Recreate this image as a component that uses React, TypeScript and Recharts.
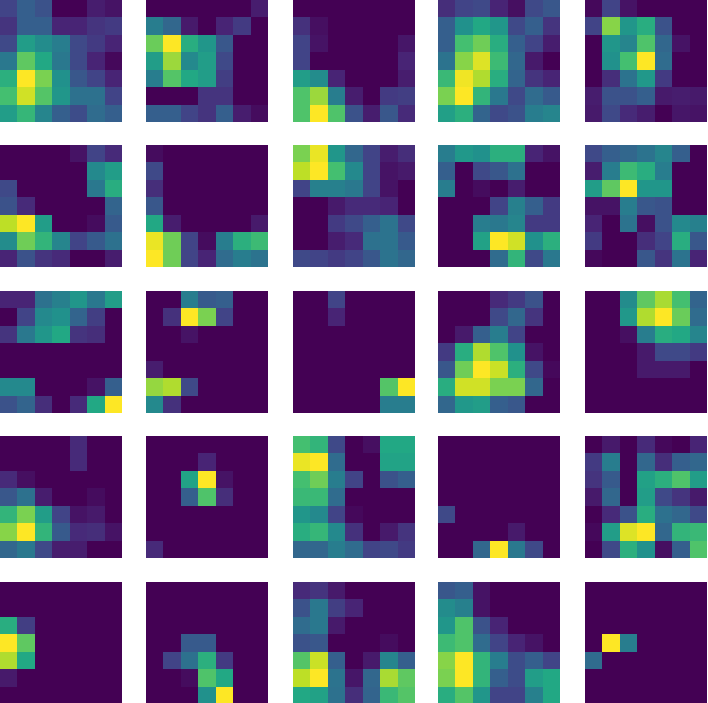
import React from 'react';
import { Bar, BarChart, Cell, XAxis, YAxis } from 'recharts';

// each panel is a 7x7 activation map, rows listed top to bottom, values 0..1
const panel1 = [[.2,.3,.25,0,0,.08,.05],[.15,.3,.3,.1,.1,.15,.17],[.22,.55,.48,.42,.22,.17,.1],[.4,.75,.6,.4,.22,.1,.02],[.63,1,.8,.5,.27,.2,.1],[.7,.93,.73,.52,.37,.37,.2],[.55,.66,.45,.3,.23,.35,.3]];
const panel2 = [[0,0,0,0,0,0,.08],[.42,.33,.07,0,.1,.17,0],[.77,1,.62,.52,.27,0,0],[.55,.85,.47,.55,.22,0,0],[.42,.73,.6,.55,.18,0,0],[0,0,0,.15,.15,0,0],[.3,.3,.2,.15,.3,.08,.03]];
const panel3 = [[0,0,0,0,0,0,0],[.14,.04,0,0,0,0,0],[.2,.05,0,0,0,0,.06],[.2,0,0,0,0,0,.1],[.55,.48,.1,0,0,0,.08],[.72,.85,.42,.08,0,.17,.18],[.72,1,.72,.25,.08,.27,.12]];
const panel4 = [[.13,.2,.22,.1,.04,.22,.27],[.3,.5,.6,.52,.22,.3,.15],[.3,.7,.78,.62,.3,.2,.08],[.38,.82,.95,.68,.33,.07,0],[.67,.98,.88,.62,.32,.15,.1],[.8,1,.65,.4,.22,.35,.28],[.56,.63,.32,.22,.25,.42,.45]];
const panel5 = [[.02,.2,.05,0,0,0,0],[.2,.82,.52,.62,.25,0,0],[0,.52,.45,.72,.33,.05,0],[0,.5,.7,1,.35,0,0],[0,.13,.38,.53,.17,0,0],[.08,.25,.25,.3,.07,.08,.07],[.07,.22,.12,.08,0,.06,.05]];
const panel6 = [[0,0,0,0,.05,.2,.12],[0,0,0,0,0,.47,.55],[.22,0,0,0,0,.4,.62],[.25,.12,0,0,0,0,.32],[.9,1,.55,0,0,.03,.28],[.48,.78,.65,.45,.2,.28,.37],[.1,.25,.15,.12,0,0,.08]];
const panel7 = [[.03,0,0,0,0,0,0],[.22,0,0,0,0,0,0],[.13,0,0,0,0,0,0],[.27,0,0,0,0,0,0],[.6,.08,0,0,0,0,.07],[.97,.78,.2,.03,.42,.63,.68],[1,.78,.2,.1,.35,.42,.38]];
const panel8 = [[.8,.97,.52,.33,.2,.08,.13],[.9,1,.7,.47,.2,.05,.07],[.2,.43,.43,.4,.2,.05,0],[0,0,.07,.12,.12,.1,0],[0,0,.17,.22,.3,.38,.22],[0,0,.08,.12,.37,.38,.28],[.22,.2,.17,.2,.27,.38,.33]];
const panel9 = [[.42,.53,.5,.63,.63,.1,.05],[.3,0,.22,.27,.37,0,0],[.42,0,.03,0,.08,0,0],[0,0,0,.2,.43,.3,.17],[0,0,.42,.4,.45,.17,.17],[0,0,.57,1,.93,.5,.63],[0,0,0,.35,.65,.22,.4]];
const panel10 = [[.22,.3,.33,.38,.45,.3,0],[.08,.42,.68,.62,.42,0,0],[.55,.75,1,.52,.52,0,0],[.05,.05,.42,.27,.25,0,0],[.1,0,.38,.04,.25,.47,.43],[.17,0,0,.13,.2,.62,.27],[.02,0,0,.27,.15,.38,.1]];
const panel11 = [[.1,.1,.37,.43,.52,.4,.55],[0,.2,.47,.5,.32,.18,0],[.15,.4,.52,.6,.15,.13,0],[0,0,0,0,0,0,0],[0,0,0,0,0,0,0],[.47,.47,0,0,0,.05,.3],[.25,.32,.13,0,.12,.6,1]];
const panel12 = [[0,0,.42,.28,.3,0,0],[0,.14,1,.8,.2,0,0],[0,0,.05,0,0,0,0],[0,0,0,0,0,0,0],[.08,0,0,0,0,0,0],[.84,.88,.22,0,0,0,0],[.47,.14,0,0,0,0,0]];
const panel13 = [[0,0,.2,0,0,0,0],[0,0,.1,0,0,0,0],[0,0,0,0,0,0,0],[0,0,0,0,0,0,0],[0,0,0,0,0,0,0],[0,0,0,0,0,.73,1],[0,0,0,0,0,.42,.42]];
const panel14 = [[0,0,0,.12,.17,.25,0],[0,0,0,.22,.33,.15,0],[0,.07,.3,.42,.2,0,0],[.17,.62,.88,.72,.5,.05,0],[.27,.78,1,.92,.63,.22,.02],[.62,.93,.93,.8,.8,.33,0],[.33,.53,.55,.3,.27,0,0]];
const panel15 = [[0,0,.48,.75,.87,.7,.32],[0,0,.53,.88,1,.77,.35],[0,0,.04,.42,.62,.6,.45],[0,0,0,.07,.22,.22,.17],[0,0,0,.07,.07,.07,0],[0,0,0,0,0,0,0],[0,0,0,0,0,0,0]];
const panel16 = [[0,0,0,0,.12,0,0],[0,0,0,0,.12,0,0],[.12,.04,0,0,0,0,0],[.27,.37,.08,0,0,.03,0],[.65,.8,.55,.2,.05,.07,0],[.82,1,.65,.28,.12,.13,.05],[.33,.4,.22,.08,.08,0,0]];
const panel17 = [[0,0,0,0,0,0,0],[0,0,0,.1,0,0,0],[0,0,.58,1,.05,0,0],[0,0,.3,.72,.13,0,0],[0,0,0,0,0,0,0],[0,0,0,0,0,0,0],[.12,0,0,0,0,0,0]];
const panel18 = [[.7,.65,.22,0,.04,.6,.6],[.97,1,.35,0,0,.58,.58],[.7,.78,.42,.2,0,.25,.3],[.67,.67,.35,0,0,0,0],[.52,.47,.2,.02,0,0,0],[.62,.66,.47,.14,0,.07,.15],[.33,.33,.42,.35,.2,.22,.17]];
const panel19 = [[0,0,0,0,0,0,0],[0,0,0,0,0,0,0],[0,0,0,0,0,0,0],[0,0,0,0,0,0,0],[.22,0,0,0,0,0,0],[0,0,0,0,.07,0,0],[0,0,.33,1,.4,.22,0]];
const panel20 = [[0,.07,0,.12,.02,0,.1],[.17,.42,0,.33,.13,.3,.33],[.15,.28,0,.57,.63,.72,.55],[.07,.33,0,.55,.22,.15,.07],[0,.12,.25,.62,.37,.33,.22],[.02,.55,.95,1,.33,.65,.67],[0,.22,.63,.5,.04,.3,.72]];
const panel21 = [[0,0,0,0,0,0,0],[0,0,0,0,0,0,0],[.62,.18,0,0,0,0,0],[1,.75,0,0,0,0,0],[.88,.6,0,0,0,0,0],[.07,0,0,0,0,0,0],[0,0,0,0,0,0,0]];
const panel22 = [[0,0,0,0,0,0,0],[0,0,0,0,0,0,0],[0,0,0,0,0,0,0],[0,0,.28,.28,0,0,0],[0,.2,.37,.63,.17,0,0],[0,0,.03,.72,.6,0,0],[0,0,0,.5,1,0,0]];
const panel23 = [[.12,.15,.07,0,0,0,0],[.25,.4,.18,.1,0,0,0],[.35,.4,.07,0,0,0,0],[.25,.27,0,0,0,.03,0],[.73,.92,.3,0,.07,.45,.3],[.9,1,.38,.06,.33,.87,.75],[.6,.57,.37,.13,.32,.67,.73]];
const panel24 = [[.27,.3,.05,0,0,0,0],[.48,.43,.05,0,0,0,0],[.52,.72,.25,.1,0,0,0],[.68,.72,.35,.2,.1,.05,0],[.82,1,.65,.42,.23,.3,.2],[.8,1,.65,.3,.23,.55,.6],[.62,.73,.52,.2,.2,.43,.6]];
const panel25 = [[0,0,0,0,0,0,0],[0,0,0,0,0,0,0],[0,0,0,0,0,0,0],[0,1,.42,0,0,0,0],[.35,0,0,0,0,0,0],[0,0,0,0,0,0,0],[0,0,0,0,0,0,0]];

const panels = [
  panel1, panel2, panel3, panel4, panel5,
  panel6, panel7, panel8, panel9, panel10,
  panel11, panel12, panel13, panel14, panel15,
  panel16, panel17, panel18, panel19, panel20,
  panel21, panel22, panel23, panel24, panel25,
];

const columnLefts = [0, 146, 293, 438, 585];
const rowTops = [0, 145, 291, 436, 582];
const panelSize = 122;
const gridSize = 7;
// recharts floors bar widths, so draw at a whole multiple of 7 and scale down
const drawSize = 490;

const viridis = [
  [68, 1, 84], [72, 36, 117], [65, 68, 135], [53, 95, 141], [42, 120, 142],
  [33, 145, 140], [34, 168, 132], [68, 191, 112], [122, 209, 81], [189, 223, 38], [253, 231, 37],
];

const colorFor = (value: number) => {
  const pos = value * 10;
  const low = Math.min(Math.floor(pos), 9);
  const t = pos - low;
  const mix = viridis[low].map((c, i) => Math.round(c + (viridis[low + 1][i] - c) * t));
  return `rgb(${mix.join(',')})`;
};

const Heatmap = ({ cells }: { cells: number[][] }) => {
  // every row is one stacked unit per column, the colour carries the value
  const table = cells[0].map((_, col) => {
    const entry: Record<string, number> = { col };
    cells.forEach((_, row) => {
      entry[`row${row}`] = 1;
    });
    return entry;
  });
  const bottomUp = cells.map((_, row) => gridSize - 1 - row);

  return (
    <BarChart
      width={drawSize}
      height={drawSize}
      data={table}
      margin={{ top: 0, right: 0, bottom: 0, left: 0 }}
      barCategoryGap={0}
      barGap={0}
      style={{ shapeRendering: 'crispEdges' }}
    >
      <XAxis dataKey='col' hide />
      <YAxis hide domain={[0, gridSize]} />
      {bottomUp.map((row) => (
        <Bar key={row} dataKey={`row${row}`} stackId='cells' isAnimationActive={false}>
          {cells[row].map((value, col) => (
            <Cell key={col} fill={colorFor(value)} />
          ))}
        </Bar>
      ))}
    </BarChart>
  );
};

const App = () => {
  return (
    <div
      style={{
        position: 'absolute',
        left: 0,
        top: 0,
        width: 708,
        height: 703,
        overflow: 'hidden',
        background: '#fff',
        filter: 'blur(0.6px)',
      }}
    >
      {panels.map((cells, i) => (
        <div
          key={i}
          style={{
            position: 'absolute',
            left: columnLefts[i % 5],
            top: rowTops[Math.floor(i / 5)],
            width: drawSize,
            height: drawSize,
            transform: `scale(${panelSize / drawSize})`,
            transformOrigin: '0 0',
          }}
        >
          <Heatmap cells={cells} />
        </div>
      ))}
    </div>
  );
};

export default App;
